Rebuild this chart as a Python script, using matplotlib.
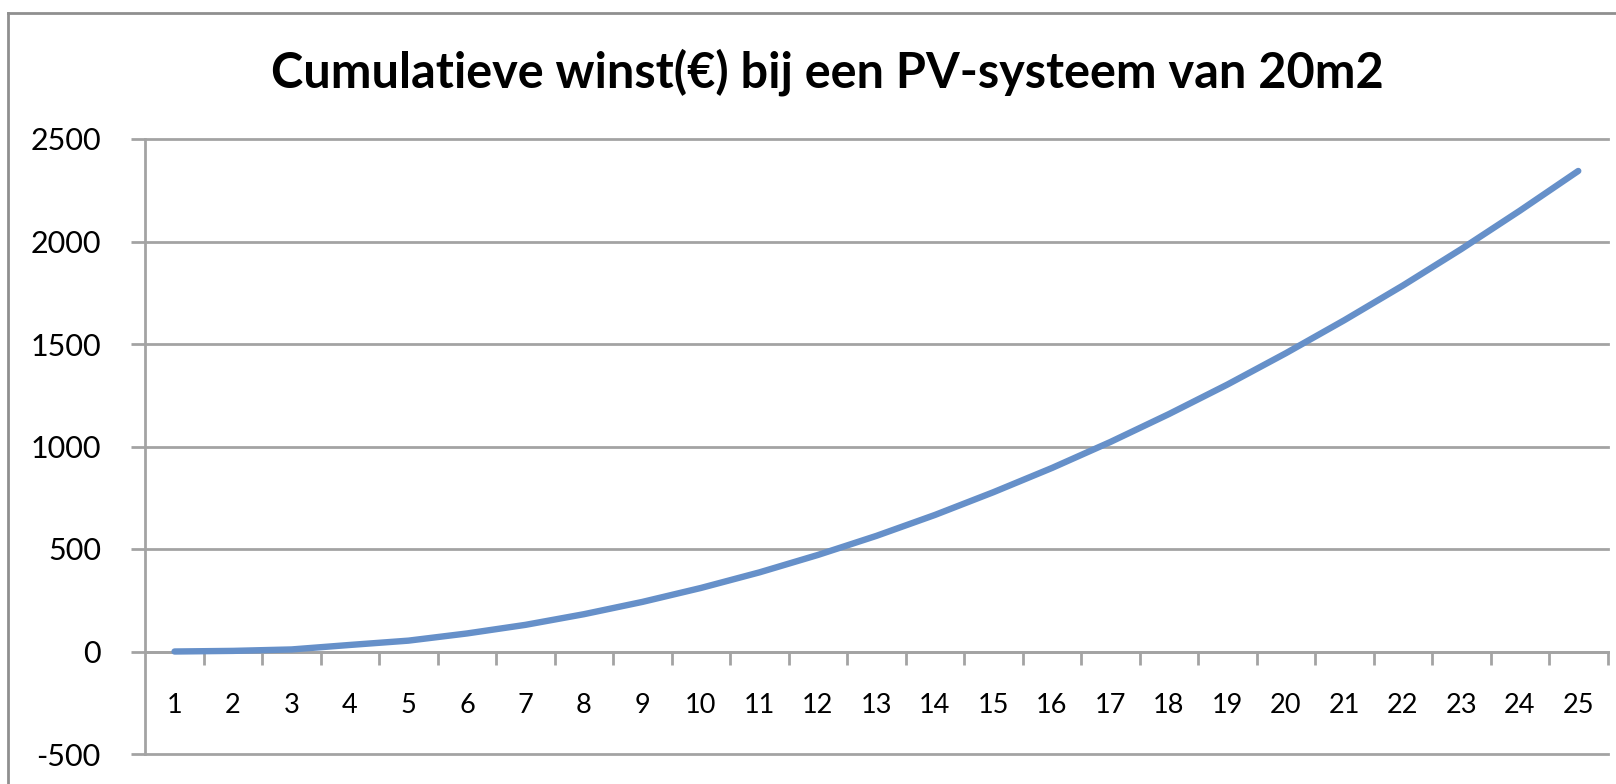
import matplotlib
matplotlib.use("Agg")
import matplotlib.pyplot as plt
from matplotlib.lines import Line2D
import numpy as np

# jaren en cumulatieve winst
years = list(range(1, 26))
profit = [0, 3, 10, 32, 53, 88, 130, 182, 242, 310, 386, 471, 564, 666, 777,
          895, 1022, 1158, 1302, 1455, 1616, 1785, 1963, 2150, 2344]
yticks = [-500, 0, 500, 1000, 1500, 2000, 2500]
title = "Cumulatieve winst(€) bij een PV-systeem van 20m2"

grid_color = "#a3a3a3"
line_color = "#6690c9"

plt.rcParams['font.family'] = ['Lato', 'DejaVu Sans']

fig = plt.figure(figsize=(16.16, 7.84), dpi=100)
ax = fig.add_axes([145.3 / 1616, 30 / 784, 1462.2 / 1616, 615 / 784])

ax.plot(years, profit, color=line_color, linewidth=4.6, solid_capstyle='round', zorder=3)

ax.set_xlim(0.5, 25.5)
ax.set_ylim(-500, 2500)

# y-as met rasterlijnen
ax.set_yticks(yticks)
ax.set_yticklabels([str(v) for v in yticks], fontsize=22)
ax.yaxis.grid(True, color=grid_color, linewidth=2, clip_on=False)
ax.set_axisbelow(True)
ax.tick_params(axis='y', direction='out', length=10, width=2, color=grid_color, pad=22)

# x-as op nul, streepjes tussen de categorieën
ax.spines['bottom'].set_position(('data', 0))
ax.spines['bottom'].set_color(grid_color)
ax.spines['bottom'].set_linewidth(2)
ax.spines['left'].set_color(grid_color)
ax.spines['left'].set_linewidth(2)
ax.spines['top'].set_visible(False)
ax.spines['right'].set_visible(False)

ax.set_xticks(years)
ax.set_xticklabels([str(y) for y in years], fontsize=19.5)
ax.set_xticks(np.arange(1.5, 26, 1), minor=True)
ax.tick_params(axis='x', which='major', length=0, pad=30)
ax.tick_params(axis='x', which='minor', direction='out', length=9, width=2, color=grid_color)

fig.text(827 / 1616, 1 - 72 / 784, title, ha='center', va='center',
         fontsize=35, fontweight='bold')

# rand van het grafiekgebied
fig.add_artist(Line2D([8 / 1616, 8 / 1616], [0, 1 - 13 / 784], color='#8f8f8f', linewidth=2))
fig.add_artist(Line2D([8 / 1616, 1], [1 - 13 / 784, 1 - 13 / 784], color='#8f8f8f', linewidth=2))

fig.savefig("out.png", dpi=100, facecolor='white')
